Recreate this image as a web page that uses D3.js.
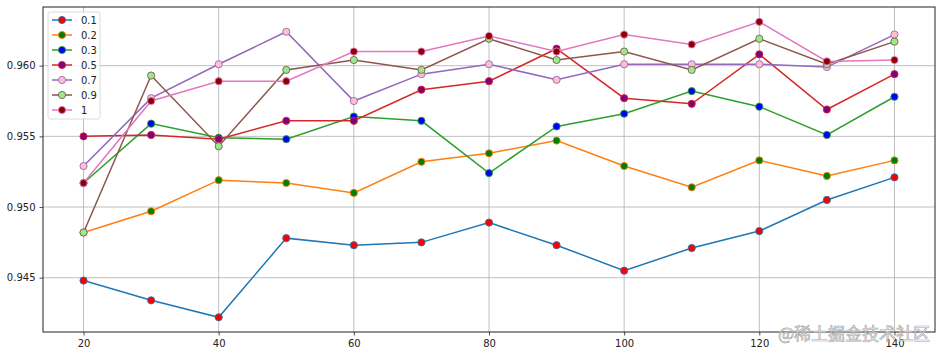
<!DOCTYPE html>
<html>
<head>
<meta charset="utf-8">
<script src="https://cdn.jsdelivr.net/npm/d3@7"></script>
<style>
  html, body { margin: 0; padding: 0; background: #fff; }
  svg { display: block; font-family: "DejaVu Sans", sans-serif; }
</style>
</head>
<body>
<svg id="chart" width="942" height="357"></svg>
<script>
// x positions
const steps = [20, 30, 40, 50, 60, 70, 80, 90, 100, 110, 120, 130, 140];
const xTicks = [20, 40, 60, 80, 100, 120, 140];
const yTicks = [0.945, 0.950, 0.955, 0.960];

// series values
const s01 = [0.9448, 0.9434, 0.9422, 0.9478, 0.9473, 0.9475, 0.9489, 0.9473, 0.9455, 0.9471, 0.9483, 0.9505, 0.9521];
const s02 = [0.9482, 0.9497, 0.9519, 0.9517, 0.9510, 0.9532, 0.9538, 0.9547, 0.9529, 0.9514, 0.9533, 0.9522, 0.9533];
const s03 = [0.9517, 0.9559, 0.9549, 0.9548, 0.9564, 0.9561, 0.9524, 0.9557, 0.9566, 0.9582, 0.9571, 0.9551, 0.9578];
const s05 = [0.9550, 0.9551, 0.9548, 0.9561, 0.9561, 0.9583, 0.9589, 0.9612, 0.9577, 0.9573, 0.9608, 0.9569, 0.9594];
const s07 = [0.9529, 0.9577, 0.9601, 0.9624, 0.9575, 0.9594, 0.9601, 0.9590, 0.9601, 0.9601, 0.9601, 0.9599, 0.9622];
const s09 = [0.9482, 0.9593, 0.9543, 0.9597, 0.9604, 0.9597, 0.9619, 0.9604, 0.9610, 0.9597, 0.9619, 0.9601, 0.9617];
const s1  = [0.9517, 0.9575, 0.9589, 0.9589, 0.9610, 0.9610, 0.9621, 0.9610, 0.9622, 0.9615, 0.9631, 0.9603, 0.9604];

const names = ['0.1', '0.2', '0.3', '0.5', '0.7', '0.9', '1'];
const lineColors = ['#1f77b4', '#ff7f0e', '#2ca02c', '#d62728', '#9467bd', '#8c564b', '#e377c2'];
const markerColors = ['#ff0000', '#008000', '#0000ff', '#800080', '#ffc0cb', '#90ee90', '#8b0000'];

const series = [s01, s02, s03, s05, s07, s09, s1].map((vals, i) => ({
  name: names[i],
  line: lineColors[i],
  marker: markerColors[i],
  values: vals.map((v, j) => ({ x: steps[j], y: v }))
}));

const svg = d3.select('#chart');
const margin = { top: 7, right: 7, bottom: 25, left: 43 };
const innerWidth = 942 - margin.left - margin.right;
const innerHeight = 357 - margin.top - margin.bottom;

const x = d3.scaleLinear().domain([14, 146]).range([0, innerWidth]);
const y = d3.scaleLinear().domain([0.94116, 0.96415]).range([innerHeight, 0]);

const g = svg.append('g').attr('transform', `translate(${margin.left},${margin.top})`);

// grid
g.append('g').selectAll('line').data(xTicks).join('line')
  .attr('x1', d => x(d)).attr('x2', d => x(d))
  .attr('y1', 0).attr('y2', innerHeight)
  .attr('stroke', '#b0b0b0').attr('stroke-width', 0.8);
g.append('g').selectAll('line').data(yTicks).join('line')
  .attr('y1', d => y(d)).attr('y2', d => y(d))
  .attr('x1', 0).attr('x2', innerWidth)
  .attr('stroke', '#b0b0b0').attr('stroke-width', 0.8);

// axes
const xAxis = g.append('g').attr('transform', `translate(0,${innerHeight})`)
  .call(d3.axisBottom(x).tickValues(xTicks).tickSize(3.5).tickPadding(4).tickFormat(d3.format('d')));
const yAxis = g.append('g')
  .call(d3.axisLeft(y).tickValues(yTicks).tickSize(3.5).tickPadding(4).tickFormat(d3.format('.3f')));
[xAxis, yAxis].forEach(a => {
  a.select('.domain').remove();
  a.selectAll('line').attr('stroke', '#222').attr('stroke-width', 0.8);
  a.selectAll('text').attr('fill', '#222').style('font-size', '10px')
    .style('font-family', '"DejaVu Sans", sans-serif');
});

// lines + markers
const line = d3.line().x(d => x(d.x)).y(d => y(d.y));
series.forEach(s => {
  g.append('path').datum(s.values)
    .attr('fill', 'none').attr('stroke', s.line).attr('stroke-width', 1.5)
    .attr('d', line);
  g.append('g').selectAll('circle').data(s.values).join('circle')
    .attr('cx', d => x(d.x)).attr('cy', d => y(d.y)).attr('r', 3.6)
    .attr('fill', s.marker).attr('stroke', s.line).attr('stroke-width', 0.9);
});

// frame
g.append('rect').attr('width', innerWidth).attr('height', innerHeight)
  .attr('fill', 'none').attr('stroke', '#222').attr('stroke-width', 1);

// legend
const legend = g.append('g').attr('transform', 'translate(5,5)');
legend.append('rect').attr('width', 52).attr('height', 107).attr('rx', 2)
  .attr('fill', 'rgba(255,255,255,0.8)').attr('stroke', '#d0d0d0').attr('stroke-width', 0.8);
series.forEach((s, i) => {
  const row = legend.append('g').attr('transform', `translate(0,${8 + i * 15})`);
  row.append('line').attr('x1', 4).attr('x2', 24).attr('y1', 0).attr('y2', 0)
    .attr('stroke', s.line).attr('stroke-width', 1.5);
  row.append('circle').attr('cx', 14).attr('cy', 0).attr('r', 3.6)
    .attr('fill', s.marker).attr('stroke', s.line).attr('stroke-width', 0.9);
  row.append('text').attr('x', 33).attr('y', 0).attr('dy', '0.35em')
    .style('font-size', '10px').attr('fill', '#222').text(s.name);
});

// watermark
svg.append('text').attr('x', 930).attr('y', 340).attr('text-anchor', 'end')
  .style('font-family', '"Noto Sans CJK SC", sans-serif').style('font-size', '17px')
  .attr('fill', 'rgba(255,255,255,0.6)').attr('stroke', '#aaa').attr('stroke-width', 0.7)
  .text('@稀土掘金技术社区');
</script>
</body>
</html>
